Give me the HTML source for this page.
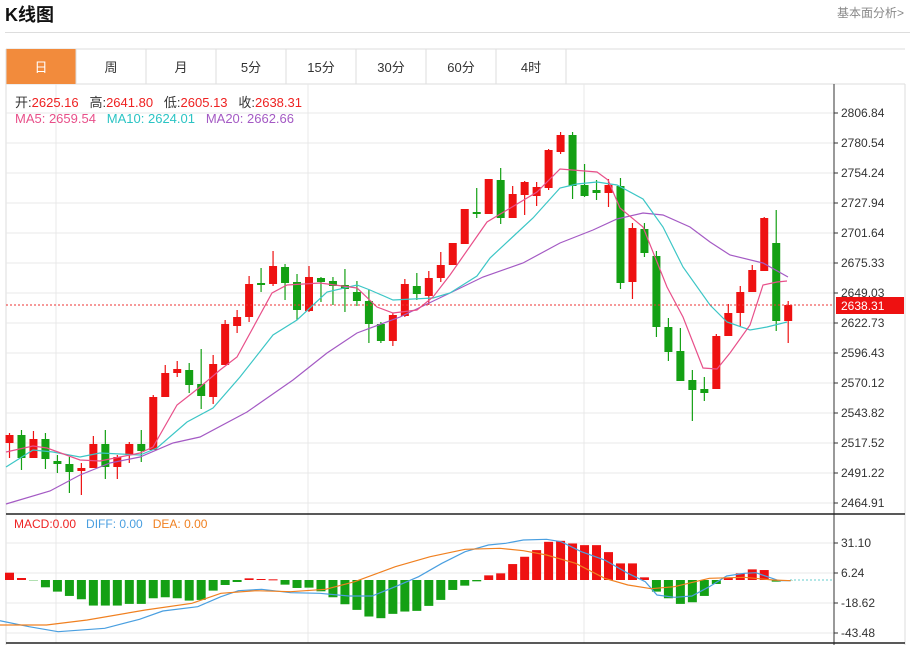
<!DOCTYPE html>
<html><head><meta charset="utf-8">
<style>
body{margin:0;width:910px;height:645px;overflow:hidden;background:#fff;font-family:"Liberation Sans","Noto Sans CJK SC",sans-serif;position:relative}
.t{position:absolute;white-space:nowrap}
</style></head><body>
<div class="t" style="left:5px;top:1px;font-size:18px;font-weight:bold;color:#111">K线图</div>
<div class="t" style="right:6px;top:4px;font-size:12px;color:#888">基本面分析&gt;</div>
<div style="position:absolute;left:5px;right:0;top:32px;height:1px;background:#ddd"></div>
<svg id="s" width="910" height="645" style="position:absolute;left:0;top:0" xmlns="http://www.w3.org/2000/svg"></svg>
<div class="t" style="left:15px;top:92px;font-size:13px;color:#333">开:<span style="color:#e22">2625.16</span>&nbsp;&nbsp; 高:<span style="color:#e22">2641.80</span>&nbsp;&nbsp; 低:<span style="color:#e22">2605.13</span>&nbsp;&nbsp; 收:<span style="color:#e22">2638.31</span></div>
<div class="t" style="left:15px;top:111px;font-size:13px"><span style="color:#e8508a">MA5: 2659.54</span>&nbsp;&nbsp; <span style="color:#2bc4c4">MA10: 2624.01</span>&nbsp;&nbsp; <span style="color:#a45ac4">MA20: 2662.66</span></div>
<div class="t" style="left:14px;top:517px;font-size:12px"><span style="color:#e22">MACD:0.00</span>&nbsp;&nbsp; <span style="color:#4a9fe0">DIFF: 0.00</span>&nbsp;&nbsp; <span style="color:#f08020">DEA: 0.00</span></div>
<script>
var s=document.getElementById('s'),h='';
function L(x1,y1,x2,y2,c,w,d){h+='<line x1="'+x1+'" y1="'+y1+'" x2="'+x2+'" y2="'+y2+'" stroke="'+c+'" stroke-width="'+(w||1)+'"'+(d?' stroke-dasharray="'+d+'"':'')+'/>';}
function R(x,y,w,hh,c){h+='<rect x="'+x+'" y="'+y+'" width="'+w+'" height="'+hh+'" fill="'+c+'"/>';}
function T(x,y,t,c,a){h+='<text x="'+x+'" y="'+y+'" font-size="'+(a||12)+'" fill="'+c+'" font-family="Liberation Sans,Noto Sans CJK SC,sans-serif">'+t+'</text>';}
// tabs
var tabs=['日','周','月','5分','15分','30分','60分','4时'];
L(6,49,905,49,'#ddd');L(6,84,905,84,'#ddd');
for(var i=0;i<8;i++){var x=6+i*70;if(i==0)R(6,49,70,35,'#f28b3c');L(x+70,49,x+70,84,'#ddd');
h+='<text x="'+(x+35)+'" y="72" text-anchor="middle" font-size="13" fill="'+(i==0?'#fff':'#333')+'" font-family="Liberation Sans,Noto Sans CJK SC,sans-serif">'+tabs[i]+'</text>';}
L(6,49,6,645,'#ddd');L(905,84,905,645,'#ddd');
// grid
var labs=['2806.84','2780.54','2754.24','2727.94','2701.64','2675.33','2649.03','2622.73','2596.43','2570.12','2543.82','2517.52','2491.22','2464.91'];
for(i=0;i<14;i++){var y=113+30*i;L(6,y,834,y,'#e8e8e8');L(834,y,838,y,'#333');T(841,y+4,labs[i],'#333');}
[56,308,584].forEach(function(x){L(x,84,x,643,'#e8e8e8');});
var ml=[[543,'31.10'],[573,'6.24'],[603,'-18.62'],[633,'-43.48']];
ml.forEach(function(m){L(6,m[0],834,m[0],'#e8e8e8');L(834,m[0],838,m[0],'#333');T(841,m[0]+4,m[1],'#333');});
L(834,84,834,645,'#333');L(6,514,905,514,'#222',1.5);L(6,643,905,643,'#222',1.5);
// candles [isRed, bodyTop, bodyBot, wickTop, wickBot]
var C=[[1,435,443,433,458],[0,435,458,430,470],[1,439,458,431,458],[0,439,459,433,469],[0,461,464,455,473],[0,464,472,457,493],[1,468,471,463,495],[1,444,468,436,468],[0,444,467,430,479],[1,457,467,455,479],[1,444,455,442,463],[0,444,451,430,462],[1,397,450,395,450],[1,373,397,365,397],[1,369,373,361,377],[0,370,385,363,393],[0,384,396,349,409],[1,364,397,355,404],[1,324,365,320,365],[1,317,326,310,333],[1,284,317,276,322],[0,283,285,268,292],[1,266,284,251,286],[0,267,283,264,300],[0,282,310,274,320],[1,277,311,266,312],[0,278,282,277,302],[0,281,286,277,305],[0,285,289,269,312],[0,292,301,281,306],[0,301,324,290,343],[0,324,341,322,343],[1,315,341,313,346],[1,284,316,279,317],[0,286,294,273,300],[1,278,296,271,305],[1,265,278,252,282],[1,243,265,243,265],[1,209,244,209,244],[0,212,214,188,218],[1,179,214,179,214],[0,180,218,168,224],[1,194,218,186,218],[1,182,195,181,215],[1,187,196,182,206],[1,150,188,149,190],[1,135,152,132,154],[0,135,186,132,199],[0,185,196,164,197],[0,190,193,180,200],[1,185,193,179,207],[0,186,283,178,289],[1,228,282,223,299],[0,229,253,223,257],[0,256,327,251,337],[0,327,352,318,361],[0,351,381,328,381],[0,380,390,370,421],[0,389,393,377,401],[1,336,389,334,389],[1,313,336,304,336],[1,292,313,286,327],[1,270,292,265,292],[1,218,271,217,271],[0,243,321,210,331],[1,305,321,301,343]];
var RED='#ee1111',GR='#14a014';
// MA lines
function P(pts,c){h+='<polyline fill="none" stroke="'+c+'" stroke-width="1.2" points="'+pts+'"/>';}
for(i=0;i<C.length;i++){var c=C[i],x=9.5+11.98*i,col=c[0]?RED:GR;L(x,c[3],x,c[4],col,1.2);R(x-4,c[1],8,Math.max(1.5,c[2]-c[1]),col);}
P('6,504 50,491 80,475 110,463 140,457 173,443 200,437 247,412 293,380 327,353 357,333 400,317 450,293 483,277 523,263 560,243 593,230 617,219 643,213 663,215 690,227 710,242 730,255 763,263 788,277','#a45ac4');
P('6,467 33,450 53,452 80,457 100,453 140,455 157,448 187,422 213,408 240,377 273,335 297,320 327,292 357,285 370,290 393,300 433,298 450,293 477,276 490,258 533,218 560,188 577,184 597,182 617,185 643,199 663,227 683,267 710,305 727,322 750,330 767,327 787,322','#3cc6c6');
P('6,452 33,446 47,448 80,460 100,461 140,453 153,447 177,405 200,387 220,370 237,357 272,293 287,285 320,283 357,288 377,307 393,313 417,310 433,297 450,275 487,222 537,192 560,169 597,172 608,180 620,208 643,227 667,287 683,317 703,368 717,369 730,353 750,325 763,285 777,282 787,281','#e8508a');
// price line
L(6,305,834,305,'#e33',1,'2,2');R(836,297,68,17,'#ee1111');T(841,310,'2638.31','#fff');
// MACD
var M=[22,6,-1,-22,-35,-48,-58,-77,-77,-77,-72,-72,-55,-52,-55,-62,-60,-32,-15,-6,5,3,2,-14,-24,-23,-34,-52,-73,-90,-110,-115,-102,-95,-93,-78,-60,-30,-17,-4,14,20,48,70,90,115,118,110,105,105,84,50,50,8,-35,-55,-72,-67,-48,-12,6,20,32,30,-5,-1];
var z=580;
for(i=0;i<M.length;i++){var x=9.5+11.98*i,v=M[i]*0.332;if(v>=0)R(x-4.5,z-v,9,Math.max(v,1),RED);else R(x-4.5,z,9,-v,GR);}
L(790,580,834,580,'#6cc','1','2,2');
function Q(a,c){var p=a.map(function(q){return (q[0]/1.72).toFixed(1)+','+(510+q[1]/3).toFixed(1);}).join(' ');P(p,c);}
Q([[0,332],[50,350],[100,365],[180,355],[240,328],[280,303],[340,290],[380,260],[410,242],[450,238],[500,248],[550,250],[600,258],[640,258],[680,230],[720,200],[760,160],[800,125],[840,105],[870,100],[900,90],[940,88],[965,95],[1000,125],[1040,150],[1080,190],[1110,215],[1130,255],[1160,262],[1190,258],[1220,230],[1250,198],[1280,190],[1300,188],[1320,200],[1340,212],[1360,212]],'#4a9fe0');
Q([[0,345],[80,345],[150,330],[250,300],[330,280],[380,250],[440,242],[500,245],[560,238],[610,215],[680,170],[740,140],[800,118],[860,115],[900,122],[940,135],[990,160],[1040,205],[1080,225],[1120,236],[1160,230],[1220,205],[1280,202],[1330,210],[1360,212]],'#f08020');
s.innerHTML=h;
</script>
</body></html>
